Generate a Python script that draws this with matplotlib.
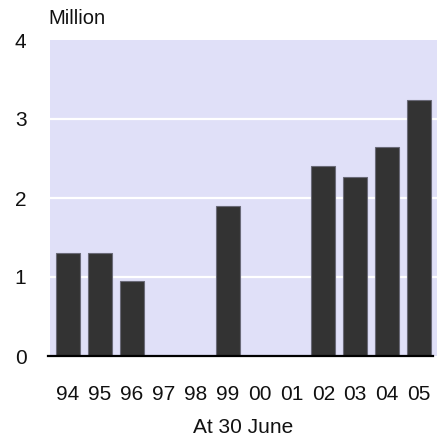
import matplotlib
matplotlib.use("Agg")
import matplotlib.pyplot as plt
from matplotlib.lines import Line2D

# Population (millions) at 30 June, by year
years = ["94", "95", "96", "97", "98", "99", "00", "01", "02", "03", "04", "05"]
values = [1.31, 1.31, 0.95, 0.0, 0.0, 1.90, 0.0, 0.0, 2.40, 2.27, 2.65, 3.24]
y_ticks = [0, 1, 2, 3, 4]

plt.rcParams["font.family"] = ["Liberation Sans", "DejaVu Sans"]

fig = plt.figure(figsize=(4.40, 4.36), dpi=100)
ax = fig.add_axes([50 / 440, 1 - 356 / 436, 387 / 440, 316 / 436])

ax.set_facecolor("#E0E0F8")
x = list(range(len(years)))
ax.bar(x, values, width=0.75, color="#333333", edgecolor="#6a6a78",
       linewidth=0.8, zorder=3)

ax.set_xlim(-0.565, 11.565)
ax.set_ylim(0, 4)
ax.set_yticks(y_ticks)
ax.set_yticklabels([str(t) for t in y_ticks])
ax.set_xticks(x)
ax.set_xticklabels(years)

for y in y_ticks[1:-1]:
    ax.axhline(y, color="white", linewidth=1.6, zorder=1)

for s in ax.spines.values():
    s.set_visible(False)

ax.tick_params(axis="both", length=0, labelsize=15, colors="#111111")
ax.tick_params(axis="x", pad=21)
ax.tick_params(axis="y", pad=17)

# baseline at zero
ax.add_line(Line2D([-0.006, 0.99], [0, 0], transform=ax.transAxes,
                   color="black", linewidth=1.6, zorder=4, clip_on=False))

fig.text(48 / 440, 1 - 19 / 436, "Million", fontsize=14.5, color="#111111",
         ha="left", va="center")
ax.set_xlabel("At 30 June", fontsize=15, color="#111111", labelpad=10)

fig.savefig("out.png", dpi=100, facecolor="white")
